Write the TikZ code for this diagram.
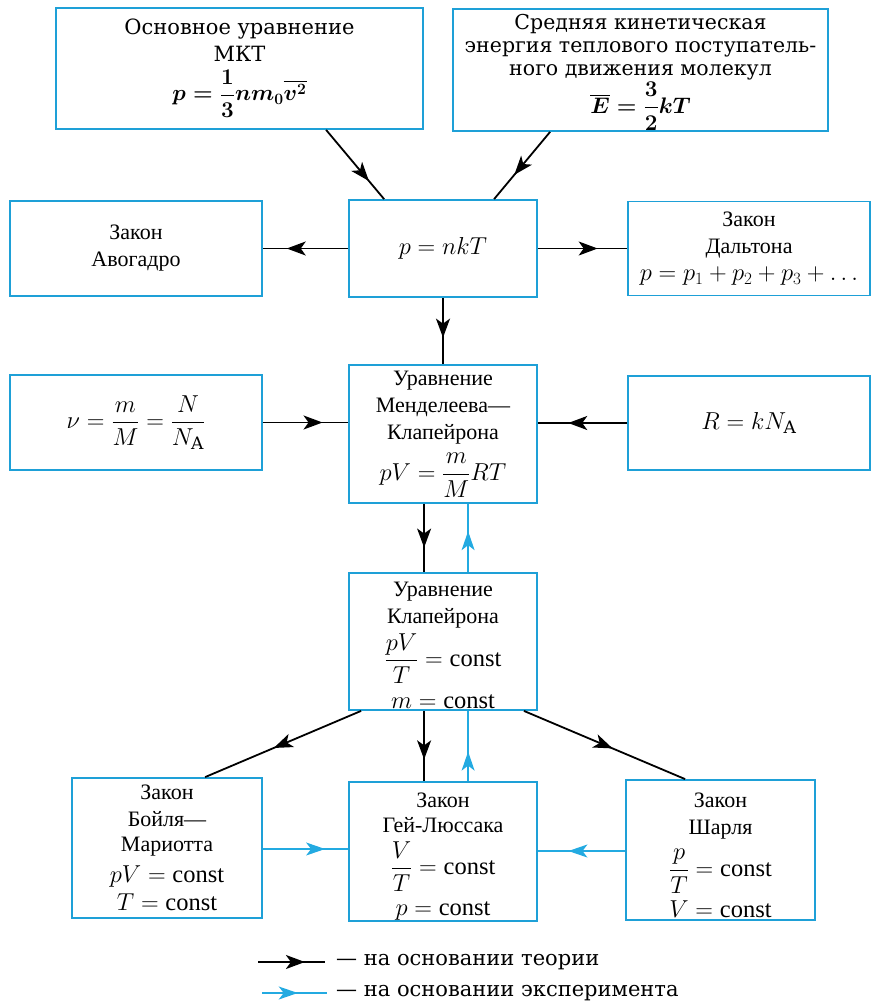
\RequirePackage{fix-cm}
\documentclass[tikz,border=0pt]{standalone}
\usepackage{amsmath}
\usepackage{fontspec}
\setmainfont{DejaVu Serif}
\newfontfamily\cond{Liberation Serif}
\usetikzlibrary{arrows.meta,decorations.markings,calc}
\definecolor{bbox}{RGB}{30,160,215}
\definecolor{barr}{RGB}{35,170,225}
\newcommand\fm[1]{{\fontsize{24.5}{27}\selectfont$#1$}}
\newcommand\fmb[1]{{\fontsize{22.5}{25}\selectfont\boldmath$#1$}}
\newcommand\up[1]{\rule{0pt}{#1}}
\tikzset{
  box/.style={draw=bbox, line width=1.8pt, rectangle, align=center, inner sep=0pt,
    font=\cond\fontsize{22}{27}\selectfont},
  wide/.style={font=\fontsize{21}{24}\selectfont},
  th/.style={line width=1.8pt, draw=black, postaction=decorate,
    decoration={markings, mark=at position #1 with {\arrow[black]{Stealth[length=19pt,width=14pt,inset=5pt]}}}},
  ex/.style={line width=1.3pt, draw=barr, postaction=decorate,
    decoration={markings, mark=at position #1 with {\arrow[barr]{Stealth[length=19pt,width=13pt,inset=5pt]}}}}
}
\begin{document}
\begin{tikzpicture}[x=1pt,y=-1pt]
\useasboundingbox (0,0) rectangle (873,1003);
% row 1
\node[box, wide, minimum width=367, minimum height=121] (mkt) at (239.5,68.5)
  {Основное уравнение\\[3pt]МКТ\\[7pt]\fmb{p=\dfrac{1}{3}nm_0\overline{v^2}}};
\node[box, font=\fontsize{20.5}{23}\selectfont, minimum width=375, minimum height=122] (ek) at (640.5,70)
  {\up{20pt}Средняя кинетическая\\энергия теплового поступатель-\\ного движения молекул\\[1pt]\fmb{\overline{E}=\dfrac{3}{2}kT}};
% row 2
\node[box, minimum width=252, minimum height=95] (avo) at (136,248.5) {Закон\\Авогадро};
\node[box, minimum width=188, minimum height=97] (pnkt) at (443,248.5) {\fm{p=nkT}};
\node[box, minimum width=242, minimum height=94] (dal) at (749,248.5) {Закон\\Дальтона\\\fm{p=p_1+p_2+p_3+\ldots}};
% row 3
\node[box, minimum width=252, minimum height=95] (nu) at (136,422.5) {\fm{\nu=\dfrac{m}{M}=\dfrac{N}{N_{\mathrm{A}}}}};
\node[box, minimum width=188, minimum height=138] (mk) at (443,434)
  {Уравнение\\Менделеева—\\Клапейрона\\[8pt]\fm{pV=\dfrac{m}{M}RT}};
\node[box, minimum width=242, minimum height=94] (R) at (749,423) {\fm{R=kN_{\mathrm{A}}}};
% row 4
\node[box, minimum width=188, minimum height=137] (kl) at (443,641.5)
  {\up{22pt}Уравнение\\Клапейрона\\[4pt]\fm{\dfrac{pV}{T}=\text{const}}\\[10pt]\fm{m=\text{const}}};
% row 5
\node[box, minimum width=190, minimum height=140] (boy) at (167,848)
  {Закон\\Бойля—\\[-2pt]Мариотта\\[4pt]\fm{pV=\text{const}}\\[1pt]\fm{T=\text{const}}};
\node[box, minimum width=188, minimum height=139] (gl) at (443,851.5)
  {\up{24pt}Закон\\[-2pt]Гей-Люссака\\[8pt]\fm{\dfrac{V}{T}=\text{const}}\\[9pt]\fm{p=\text{const}}};
\node[box, minimum width=189, minimum height=140] (sh) at (720.5,850)
  {\up{25pt}Закон\\Шарля\\[9pt]\fm{\dfrac{p}{T}=\text{const}}\\[6pt]\fm{V=\text{const}}};
% connectors
\draw[th=0.74] ($(mkt.south west)+(271,0)$) -- ($(pnkt.north west)+(36,0)$);
\draw[th=0.64] ($(ek.south west)+(98,0)$) -- ($(pnkt.north west)+(146,0)$);
\draw[th=0.72] (pnkt.west) -- (avo.east);
\draw[th=0.67] (pnkt.east) -- (dal.east -| dal.west);
\draw[th=0.6] (pnkt.south) -- (mk.north);
\draw[th=0.7] (nu.east) -- (nu.east -| mk.west);
\draw[th=0.66] (R.west) -- (R.west -| mk.east);
\draw[th=0.64] ($(mk.south west)+(76,0)$) -- ($(kl.north west)+(76,0)$);
\draw[ex=0.6] ($(kl.north west)+(120,0)$) -- ($(mk.south west)+(120,0)$);
\draw[th=0.56] ($(kl.south west)+(13,0)$) -- ($(boy.north west)+(134,0)$);
\draw[th=0.55] ($(kl.south east)+(-14,0)$) -- ($(sh.north west)+(60,0)$);
\draw[th=0.69] ($(kl.south west)+(76,0)$) -- ($(gl.north west)+(76,0)$);
\draw[ex=0.42] ($(gl.north west)+(120,0)$) -- ($(kl.south west)+(120,0)$);
\draw[ex=0.73] (boy.east |- 0,849) -- (gl.west |- 0,849);
\draw[ex=0.65] (sh.west |- 0,851) -- (gl.east |- 0,851);
% legend
\coordinate (l1a) at (258,962);
\coordinate (l1b) at (325,962);
\coordinate (l2a) at (262,993);
\coordinate (l2b) at (327,993);
\draw[th=0.7] (l1a) -- (l1b);
\draw[ex=0.55] (l2a) -- (l2b);
\node[anchor=west, wide, inner sep=0pt] (leg1) at (336,962) {— на основании теории};
\node[anchor=west, wide, inner sep=0pt] (leg2) at (336,993) {— на основании эксперимента};
\end{tikzpicture}
\end{document}
